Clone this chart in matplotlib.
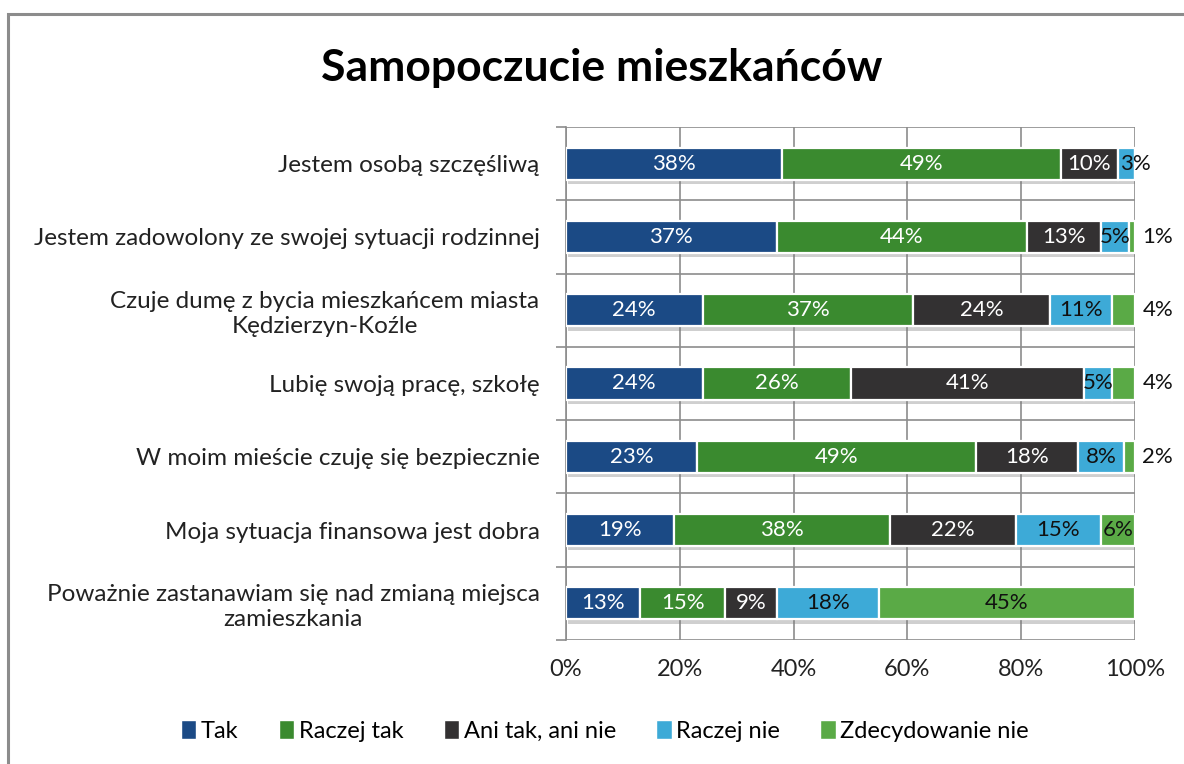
import numpy as np
import matplotlib
matplotlib.use("Agg")
import matplotlib.pyplot as plt
import matplotlib.patches as mpatches
import matplotlib.patheffects as pe

plt.rcParams['font.family'] = ['Lato', 'DejaVu Sans']

categories = [
    "Jestem osobą szczęśliwą",
    "Jestem zadowolony ze swojej sytuacji rodzinnej",
    "Czuje dumę z bycia mieszkańcem miasta\nKędzierzyn-Koźle",
    "Lubię swoją pracę, szkołę",
    "W moim mieście czuję się bezpiecznie",
    "Moja sytuacja finansowa jest dobra",
    "Poważnie zastanawiam się nad zmianą miejsca\nzamieszkania",
]
series_names = ["Tak", "Raczej tak", "Ani tak, ani nie", "Raczej nie", "Zdecydowanie nie"]
tak = [38, 37, 24, 24, 23, 19, 13]
raczej_tak = [49, 44, 37, 26, 49, 38, 15]
ani_tak = [10, 13, 24, 41, 18, 22, 9]
raczej_nie = [3, 5, 11, 5, 8, 15, 18]
zdecydowanie_nie = [0, 1, 4, 4, 2, 6, 45]

colors = ["#1B4A85", "#3A8A2F", "#333132", "#3DAAD7", "#5AAA46"]
text_colors = ["white", "white", "white", "#111111", "#111111"]

fig = plt.figure(figsize=(11.84, 7.64), dpi=100)
W, H = 1184, 764
ax = fig.add_axes([566 / W, 1 - 640 / H, (1135 - 566) / W, 513 / H])

# ramka wykresu
fig.patches.append(mpatches.Rectangle((8 / W, -0.05), 1.2, 1 - 14 / H + 0.05,
                                      transform=fig.transFigure, fill=False,
                                      edgecolor="#8c8c8c", linewidth=2.2))

y = np.arange(len(categories))
data = [tak, raczej_tak, ani_tak, raczej_nie, zdecydowanie_nie]
left = np.zeros(len(categories))
shadow = [pe.SimplePatchShadow(offset=(1.5, -3), shadow_rgbFace="#777777", alpha=0.35), pe.Normal()]

for i, (name, vals) in enumerate(zip(series_names, data)):
    vals = np.array(vals, dtype=float)
    bars = ax.barh(y, vals, left=left, height=0.44, color=colors[i],
                   edgecolor="white", linewidth=1.6, label=name, zorder=3)
    for b in bars:
        b.set_path_effects(shadow)
    for j, v in enumerate(vals):
        if v <= 0:
            continue
        if i == len(series_names) - 1 and v <= 4:
            ax.text(101.3, y[j], f"{int(v)}%", ha="left", va="center",
                    fontsize=16, color="#111111", zorder=5, clip_on=False)
        elif v <= 3:
            # za wąski segment - etykieta na prawej krawędzi
            ax.text(left[j] + v, y[j], f"{int(v)}%", ha="center", va="center",
                    fontsize=16, color="#111111", zorder=5, clip_on=False)
        else:
            ax.text(left[j] + v / 2, y[j], f"{int(v)}%", ha="center", va="center",
                    fontsize=16, color=text_colors[i], zorder=5, clip_on=False)
    left += vals

ax.set_xlim(0, 100)
ax.set_ylim(len(categories) - 0.5, -0.5)
ax.set_xticks(np.arange(0, 101, 20))
ax.set_xticklabels([f"{t}%" for t in range(0, 101, 20)], fontsize=17, color="#222222")
ax.set_yticks(y)
ax.set_yticklabels(categories, fontsize=17.5, color="#222222", multialignment="center")
ax.set_yticks(np.arange(-0.5, len(categories), 1), minor=True)

ax.tick_params(axis="y", which="major", length=0, pad=19)
ax.tick_params(axis="y", which="minor", length=7, color="#8c8c8c", width=1.2)
ax.tick_params(axis="x", which="major", length=0, pad=14)

ax.grid(axis="x", which="major", color="#8c8c8c", linewidth=1.2, zorder=0)
ax.grid(axis="y", which="minor", color="#8c8c8c", linewidth=1.2, zorder=0)
ax.set_axisbelow(True)
for s in ["top", "right", "bottom"]:
    ax.spines[s].set_visible(False)
ax.spines["left"].set_color("#8c8c8c")
ax.spines["left"].set_linewidth(1.2)

fig.text(602 / W, 1 - 68 / H, "Samopoczucie mieszkańców", ha="center", va="center",
         fontsize=32, fontweight="bold", color="black")

handles = [mpatches.Patch(facecolor=c, edgecolor="white") for c in colors]
fig.legend(handles, series_names, loc="center", bbox_to_anchor=(605 / W, 1 - 731 / H),
           ncol=5, frameon=False, fontsize=17, handlelength=0.65, handleheight=0.85,
           handletextpad=0.2, columnspacing=1.7)

fig.savefig("out.png", dpi=100)
